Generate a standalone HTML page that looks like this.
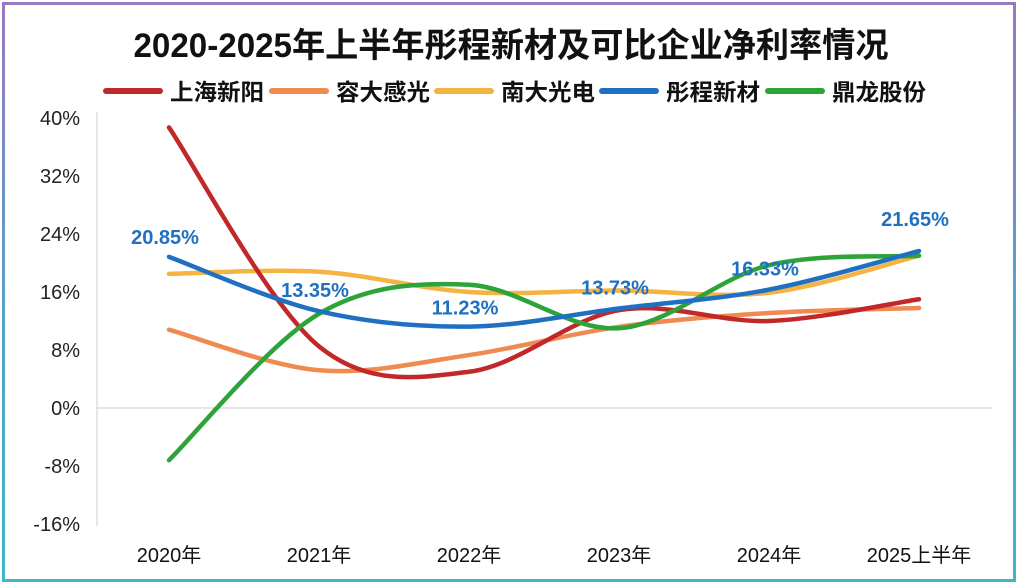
<!DOCTYPE html>
<html><head><meta charset="utf-8"><style>
body{margin:0;width:1022px;height:588px;overflow:hidden;background:#fff;font-family:"Liberation Sans","Noto Sans CJK SC",sans-serif}
#frame{position:absolute;left:2px;top:2px;width:1014px;height:580px;border:3px solid;border-image:linear-gradient(#9a78c0,#5aa0c8,#3cb8c8) 1;box-sizing:border-box}
</style></head><body>
<div id="frame"></div>
<svg id="c" width="1022" height="588" style="position:absolute;left:0;top:0">
<text x="511" y="57" text-anchor="middle" font-size="34" font-weight="bold" fill="#111" textLength="755" lengthAdjust="spacingAndGlyphs" font-family="Liberation Sans,Noto Sans CJK SC,sans-serif">2020-2025年上半年彤程新材及可比企业净利率情况</text>
<g id="legend"></g><g id="axes"></g><g id="series"></g><g id="labels"></g>
</svg>
<script>
const categories=["2020年","2021年","2022年","2023年","2024年","2025上半年"];
const seriesNames=["上海新阳","容大感光","南大光电","彤程新材","鼎龙股份"];
const seriesColors=["#c0282a","#ef8a50","#f5b342","#1f70c1","#2ea33a"];
const sShanghai=[38.7,8.5,5,13.5,12,15];
const sRongda=[10.8,5.2,7.3,11.2,13.1,13.8];
const sNanda=[18.5,18.8,16,16.2,15.9,21];
const sTongcheng=[20.85,13.35,11.23,13.73,16.33,21.65];
const sDinglong=[-7.2,13,17,11,19.7,21];
const allSeries=[sShanghai,sRongda,sNanda,sTongcheng,sDinglong];
const yTicks=[40,32,24,16,8,0,-8,-16];
const tcLabels=["20.85%","13.35%","11.23%","13.73%","16.33%","21.65%"];
const NS="http://www.w3.org/2000/svg";
const X=i=>169+i*150, Y=v=>408-7.25*v;
function el(t,a,p){const e=document.createElementNS(NS,t);for(const k in a)e.setAttribute(k,a[k]);document.getElementById(p).appendChild(e);return e;}
const F="Liberation Sans,Noto Sans CJK SC,sans-serif";
let a=el('line',{x1:97,y1:112,x2:97,y2:526,stroke:'#ccc'},'axes');

let z=el('line',{x1:97,y1:Y(0),x2:992,y2:Y(0),stroke:'#ccc'},'axes');

yTicks.forEach(v=>{const t=el('text',{x:80,y:Y(v)+7,'text-anchor':'end','font-size':20,fill:'#222','font-family':F},'axes');t.textContent=v+'%';
});
categories.forEach((c,i)=>{const t=el('text',{x:X(i),y:562,'text-anchor':'middle','font-size':20,fill:'#111','font-family':F},'axes');t.textContent=c;
});
const lx=[106,272,437,602,768];
seriesNames.forEach((n,i)=>{const l=el('line',{x1:lx[i],y1:91,x2:lx[i]+54,y2:91,stroke:seriesColors[i],'stroke-width':6,'stroke-linecap':'round'},'legend');

const t=el('text',{x:lx[i]+64,y:100,'font-size':23,'font-weight':'bold',fill:'#111','font-family':F,textLength:94,lengthAdjust:'spacingAndGlyphs'},'legend');t.textContent=n;
});
function path(vals){const p=vals.map((v,i)=>[X(i),Y(v)]);let d=`M${p[0][0]},${p[0][1]}`;
for(let i=0;i<p.length-1;i++){const p0=p[Math.max(0,i-1)],p1=p[i],p2=p[i+1],p3=p[Math.min(p.length-1,i+2)];
const c1=[p1[0]+(p2[0]-p0[0])/6,p1[1]+(p2[1]-p0[1])/6],c2=[p2[0]-(p3[0]-p1[0])/6,p2[1]-(p3[1]-p1[1])/6];
d+=` C${c1[0]},${c1[1]} ${c2[0]},${c2[1]} ${p2[0]},${p2[1]}`;}return d;}
const order=[2,1,0,4,3];
order.forEach(k=>{const p=el('path',{d:path(allSeries[k]),fill:'none',stroke:seriesColors[k],'stroke-width':4.5,'stroke-linecap':'round'},'series');
});
const off=[-13,-14,-12,-14,-14,-25];
sTongcheng.forEach((v,i)=>{const t=el('text',{x:X(i)-4,y:Y(v)+off[i],'text-anchor':'middle','font-size':20,'font-weight':'bold',fill:'#1f70c1','font-family':F},'labels');t.textContent=tcLabels[i];
});
</script>
</body></html>
